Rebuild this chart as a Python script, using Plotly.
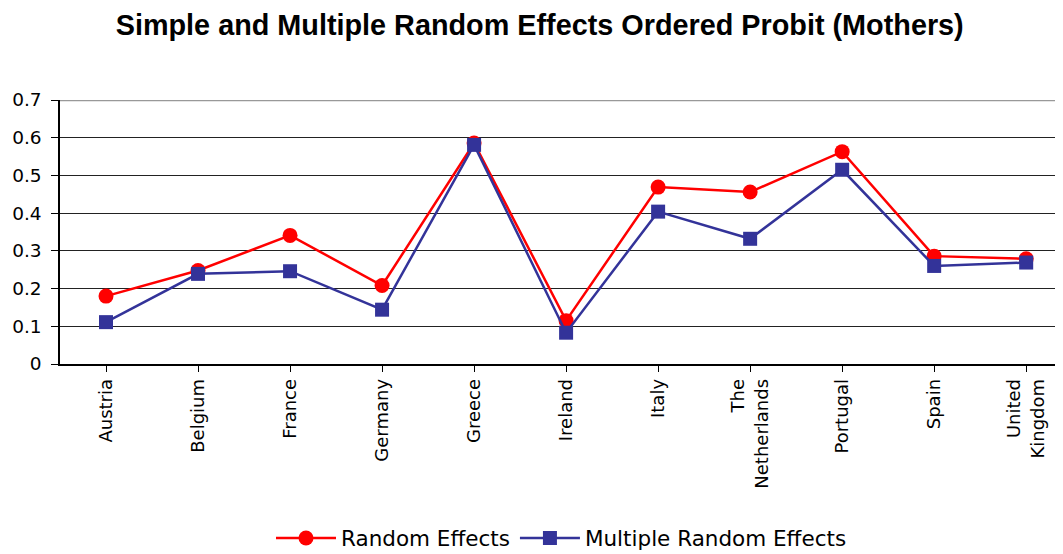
import plotly.graph_objects as go

categories = ["Austria", "Belgium", "France", "Germany", "Greece", "Ireland",
              "Italy", "The<br>Netherlands", "Portugal", "Spain", "United<br>Kingdom"]
random_effects = [0.18, 0.248, 0.341, 0.208, 0.586, 0.115, 0.469, 0.456, 0.563, 0.286, 0.279]
multiple_random_effects = [0.111, 0.239, 0.246, 0.144, 0.581, 0.083, 0.404, 0.332, 0.515, 0.26, 0.269]
y_ticks = [0, 0.1, 0.2, 0.3, 0.4, 0.5, 0.6, 0.7]
y_tick_text = ["0", "0.1", "0.2", "0.3", "0.4", "0.5", "0.6", "0.7"]

x_idx = list(range(len(categories)))

fig = go.Figure()
fig.add_trace(go.Scatter(
    x=x_idx, y=random_effects, mode="lines+markers", name="Random Effects",
    line=dict(color="#FF0000", width=2.5),
    marker=dict(symbol="circle", size=15, color="#FF0000"),
))
fig.add_trace(go.Scatter(
    x=x_idx, y=multiple_random_effects, mode="lines+markers", name="Multiple Random Effects",
    line=dict(color="#333399", width=2.5),
    marker=dict(symbol="square", size=14, color="#333399"),
))

fig.add_shape(type="line", xref="paper", yref="y", x0=0, x1=1, y0=0.7, y1=0.7,
              line=dict(color="#999999", width=2.5), layer="above")

fig.update_layout(
    width=1055, height=546,
    paper_bgcolor="white", plot_bgcolor="white",
    margin=dict(l=52, r=0, t=92, b=190, autoexpand=False),
    font=dict(family="DejaVu Sans, Liberation Sans, Arial, sans-serif", color="black"),
    title=dict(text="<b>Simple and Multiple Random Effects Ordered Probit (Mothers)</b>",
               x=0.504, xanchor="center", y=0.969, yanchor="middle",
               font=dict(family="Liberation Sans, Arial, sans-serif", size=28.8, color="black")),
    showlegend=True,
    legend=dict(orientation="h", x=0.5, xanchor="center",
                yref="container", y=0.0293, yanchor="middle",
                font=dict(size=21.5), itemwidth=60, tracegroupgap=0),
    xaxis=dict(
        range=[-0.5, 10.4], automargin=False,
        tickmode="array", tickvals=x_idx, ticktext=categories,
        tickangle=-90, tickfont=dict(size=18),
        ticks="outside", tickson="boundaries", ticklen=6, tickcolor="black", tickwidth=1,
        showline=True, linecolor="black", linewidth=1.5,
        showgrid=False, zeroline=False,
    ),
    yaxis=dict(
        range=[0, 0.7], automargin=False,
        tickmode="array", tickvals=y_ticks, ticktext=y_tick_text,
        tickfont=dict(size=18.5), ticklabelstandoff=6,
        ticks="outside", ticklen=7, tickcolor="black",
        showline=True, linecolor="black", linewidth=1.5,
        showgrid=True, gridcolor="#222222", gridwidth=1,
        zeroline=False,
    ),
)

fig.write_html("out.html")
